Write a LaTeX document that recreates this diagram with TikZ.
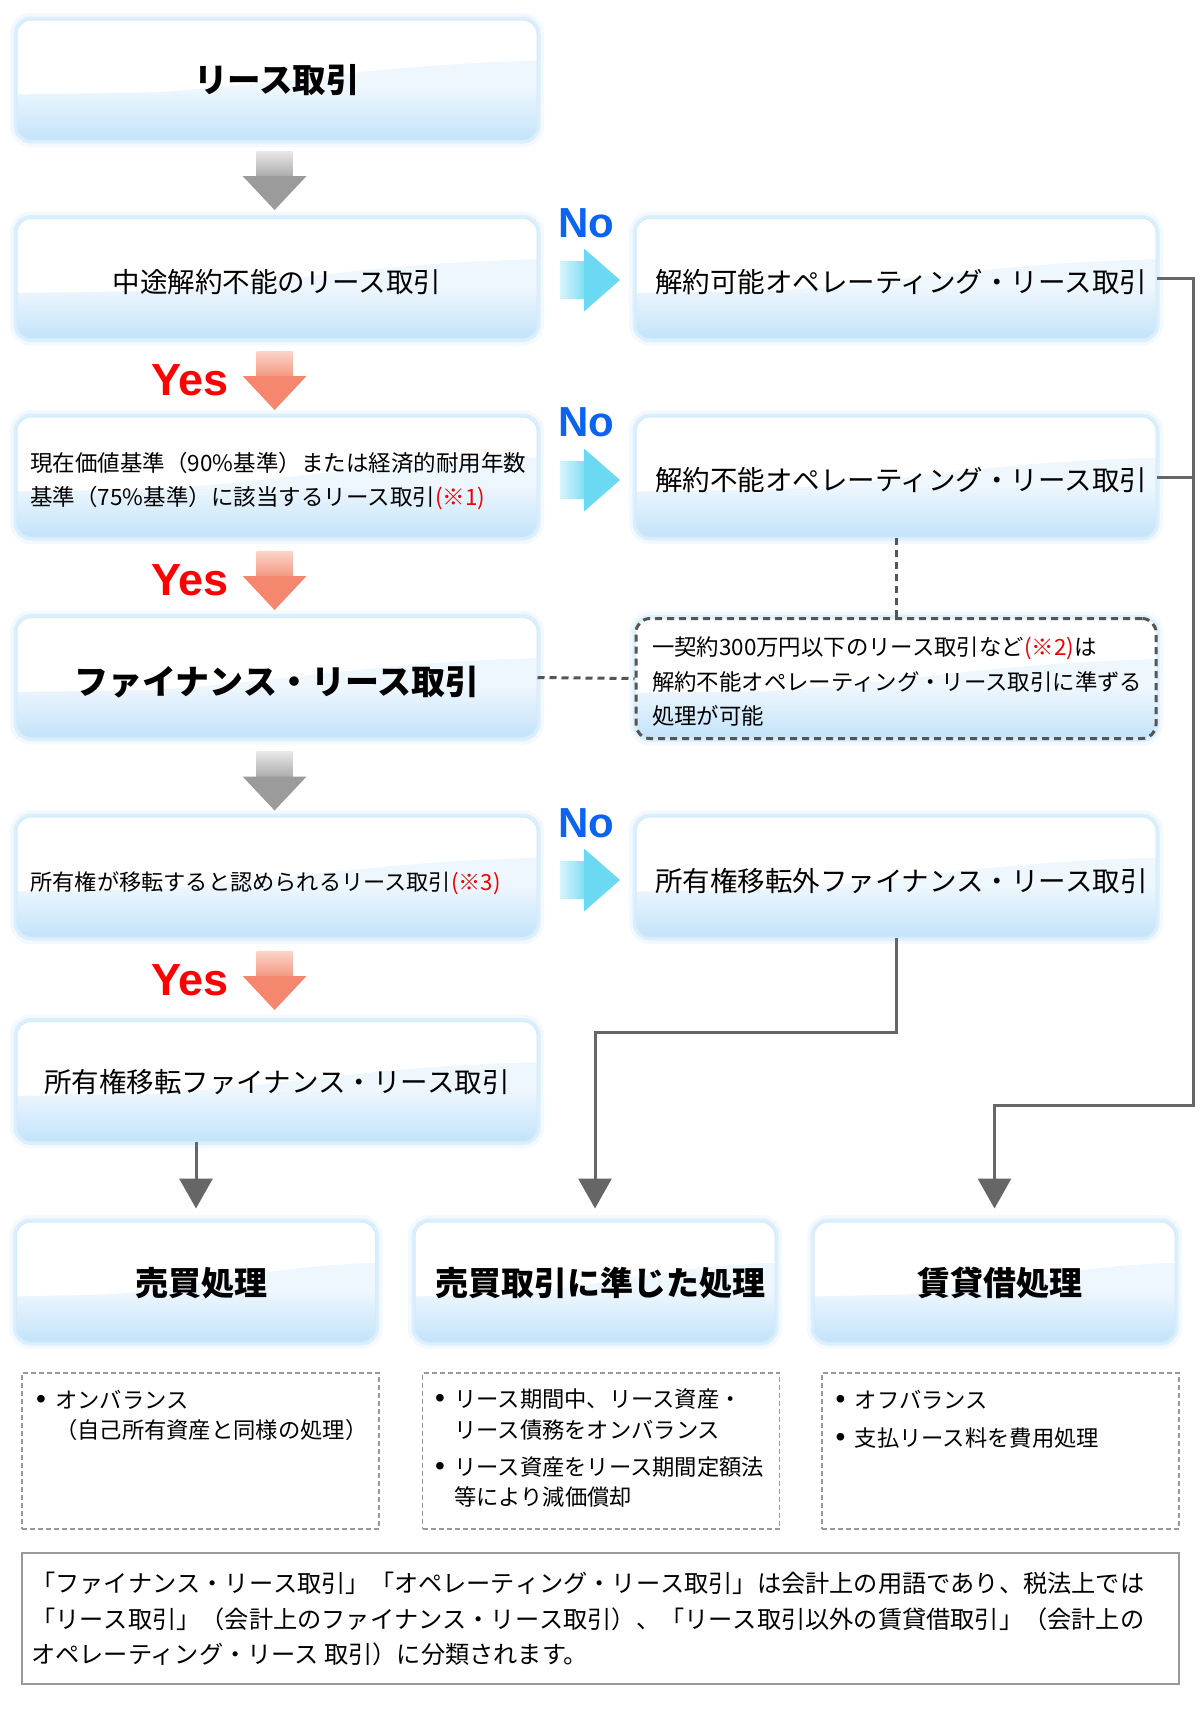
\documentclass[tikz,border=0pt]{standalone}
\usepackage{fontspec}
\setmainfont{Noto Sans CJK JP}
\newfontfamily\latinb{Liberation Sans}
\usetikzlibrary{calc,arrows.meta}
\definecolor{glowc}{HTML}{C9E7FB}
\definecolor{bandfaint}{HTML}{EFF7FE}
\definecolor{bandmid}{HTML}{D4ECFC}
\definecolor{bandbot}{HTML}{C3E3FA}
\definecolor{edgec}{HTML}{D3EBFB}
\definecolor{conc}{HTML}{666666}
\definecolor{notec}{HTML}{555555}
\definecolor{dashg}{HTML}{999999}
\definecolor{yesred}{HTML}{FF0000}
\definecolor{noblue}{HTML}{0A64F0}
\definecolor{noter}{HTML}{F00000}
\definecolor{grayA}{HTML}{E8E8E8}
\definecolor{grayB}{HTML}{A9A9A9}
\definecolor{grayH}{HTML}{9B9B9B}
\definecolor{orA}{HTML}{FBD4C9}
\definecolor{orB}{HTML}{F3967E}
\definecolor{orH}{HTML}{F4876E}
\definecolor{cyA}{HTML}{D8F5FC}
\definecolor{cyB}{HTML}{80DDF3}
\definecolor{cyH}{HTML}{6CD9F2}
\makeatletter
\newcommand\jspread[2]{\makebox[#1][s]{\@tfor\jsx:=#2\do{\jsx\hfil}\unskip}}
\makeatother
\newcommand\lowr[2]{\raisebox{-#1}[\height][\depth]{#2}}
\newcommand\bul{\makebox[24pt][l]{\hspace{5pt}{\latinb\fontsize{28}{28}\selectfont •}}}
\tikzset{
  glow/.style={preaction={draw=glowc, solid, line width=14pt, draw opacity=0.22},
               preaction={draw=glowc, solid, line width=7pt, draw opacity=0.55}},
  band/.style={path picture={
     \fill[sharp corners, bandfaint]
       let \p1=(path picture bounding box.south west), \p2=(path picture bounding box.north east) in
       (\x1,\y1) -- (\x1,{\y1+0.36*(\y2-\y1)})
       .. controls ({\x1+0.45*(\x2-\x1)},{\y1+0.37*(\y2-\y1)}) and ({\x1+0.6*(\x2-\x1)},{\y1+0.62*(\y2-\y1)})
       .. (\x2,{\y1+0.66*(\y2-\y1)}) -- (\x2,\y1) -- cycle;
     \shade[sharp corners, top color=bandfaint, middle color=bandmid, bottom color=bandbot]
       let \p1=(path picture bounding box.south west), \p2=(path picture bounding box.north east) in
       (\x1,\y1) -- (\x1,{\y1+0.38*(\y2-\y1)}) -- (\x2,{\y1+0.44*(\y2-\y1)}) -- (\x2,\y1) -- cycle;}},
  glass/.style={rectangle, rounded corners=14pt, minimum width=520pt, minimum height=120pt,
     inner sep=0pt, fill=white, draw=edgec, line width=1pt, glow, band},
  notebox/.style={glass, draw=notec, line width=3pt, dash pattern=on 7pt off 5pt},
  t27/.style={font=\fontsize{27.5}{34}\selectfont},
  btitle/.style={font=\bfseries\fontsize{33}{40}\selectfont},
  rtext/.style={t27, text width=482pt, align=left},
  dbox/.style={draw=dashg, line width=1.5pt, dash pattern=on 5pt off 3pt,
     minimum width=357pt, minimum height=156pt, inner sep=0pt},
  dline/.style={anchor=west, inner sep=0pt, font=\fontsize{22.3}{30}\selectfont},
  yes/.style={text=yesred, font=\latinb\bfseries\fontsize{45}{45}\selectfont, inner sep=0pt},
  no/.style={text=noblue, font=\latinb\bfseries\fontsize{42}{42}\selectfont, inner sep=0pt},
  conn/.style={draw=conc, line width=3pt, -{Triangle[width=33pt,length=30pt]}, shorten >=13pt},
  plainconn/.style={draw=conc, line width=3pt},
  dashconn/.style={draw=notec, line width=3pt, dash pattern=on 7pt off 5pt},
  pics/dblock/.style n args={3}{code={
     \shade[top color=#1, bottom color=#2] (-18,-29.5) rectangle (18,-3);
     \fill[#3] (-32,-4.5) -- (32,-4.5) -- (0,29.5) -- cycle;}},
  pics/rblock/.style n args={3}{code={
     \shade[left color=#1, right color=#2] (-30,-18.5) rectangle (-5,18.5);
     \fill[#3] (-6,-31.5) -- (-6,31.5) -- (30,0) -- cycle;}},
}
\begin{document}
\begin{tikzpicture}[x=1pt,y=-1pt]
\fill[white] (0,0) rectangle (1200,1730);
\useasboundingbox (0,0) rectangle (1200,1730);

% left column
\node[glass, font=\bfseries\fontsize{33.5}{40}\selectfont] (lease) at (277,80) {リース取引};
\node[glass, t27] (cancel) at (277,278.5) {\lowr{3.3pt}{中途解約不能のリース取引}};
\node[glass, text width=493pt, align=left, font=\fontsize{22.5}{34}\selectfont] (pv) at (277,477)
  {\lowr{4.5pt}{現在価値基準（90\%基準）または経済的耐用年数}\\\lowr{4.5pt}{基準（75\%基準）に該当するリース取引{\color{noter}(※1)}}};
\node[glass, font=\bfseries\fontsize{34}{40}\selectfont] (fin) at (277,677.5) {\lowr{4.4pt}{ファイナンス・リース取引}};
\node[glass, text width=493pt, align=left, font=\fontsize{22.2}{30}\selectfont] (own) at (277,877)
  {\lowr{6.6pt}{所有権が移転すると認められるリース取引{\color{noter}(※3)}}};
\node[glass, t27] (ownfin) at (277,1081.5) {所有権移転ファイナンス・リース取引};

% right column
\node[glass, rtext] (opcan) at (896,278.5) {\lowr{3.3pt}{解約可能オペレーティング・リース取引}};
\node[glass, rtext] (opnon) at (896,477) {\lowr{3.3pt}{解約不能オペレーティング・リース取引}};
\node[notebox, text width=488pt, align=left, font=\fontsize{22.4}{34.5}\selectfont] (note) at (896,678.5)
  {\lowr{3pt}{一契約300万円以下のリース取引など{\color{noter}(※2)}は}\\\lowr{3pt}{解約不能オペレーティング・リース取引に準ずる}\\\lowr{3pt}{処理が可能}};
\node[glass, rtext] (nonown) at (896,877) {\lowr{4.4pt}{所有権移転外ファイナンス・リース取引}};

% block arrows
\pic at (274.6,180.5) {dblock={grayA}{grayB}{grayH}};
\pic at (274.6,781) {dblock={grayA}{grayB}{grayH}};
\pic at (274.6,380.5) {dblock={orA}{orB}{orH}};
\pic at (274.6,580.5) {dblock={orA}{orB}{orH}};
\pic at (274.6,980.5) {dblock={orA}{orB}{orH}};
\pic at (590,280) {rblock={cyA}{cyB}{cyH}};
\pic at (590,480) {rblock={cyA}{cyB}{cyH}};
\pic at (590,880) {rblock={cyA}{cyB}{cyH}};

\node[yes] (yes1) at (190,380) {Yes};
\node[yes] (yes2) at (190,580.5) {Yes};
\node[yes] (yes3) at (190,980.5) {Yes};
\node[no] (no1) at (586,223) {No};
\node[no] (no2) at (586,422) {No};
\node[no] (no3) at (586,823) {No};

% bottom results
\node[glass, minimum width=359pt, btitle] (sale) at (196,1282) {\hspace*{11pt}\lowr{1pt}{売買処理}};
\node[glass, minimum width=360pt, btitle] (salelike) at (595,1282) {\hspace*{11pt}\lowr{1pt}{売買取引に準じた処理}};
\node[glass, minimum width=361pt, btitle] (rent) at (994.5,1282) {\hspace*{11pt}\lowr{1pt}{賃貸借処理}};

% connectors
\coordinate (rj) at (1193,1105);
\coordinate (cj) at (595,1032);
\draw[conn] (opcan.east) -| (rj) -| (rent.north);
\draw[plainconn] (opnon.east) -- (opnon.east -| rj);
\draw[conn] (nonown.south) |- (cj) -- (salelike.north);
\draw[conn] (sale.north |- ownfin.south) -- (sale.north);
\draw[dashconn] (opnon.south) -- (note.north);
\draw[dashconn] (fin.east) -- (note.west);

% dashed detail boxes
\node[dbox] (d1) at (200.5,1451) {};
\node[dbox] (d2) at (601,1451) {};
\node[dbox] (d3) at (1000.5,1451) {};
\node[dline] (d1a) at (31,1399.5) {\bul オンバランス};
\node[dline] (d1b) at (55,1430.5) {（自己所有資産と同様の処理）};
\node[dline] (d2a) at (430,1399.5) {\bul リース期間中、リース資産・};
\node[dline] (d2b) at (454,1430.5) {リース債務をオンバランス};
\node[dline] (d2c) at (430,1467) {\bul リース資産をリース期間定額法};
\node[dline] (d2d) at (454,1496.5) {等により減価償却};
\node[dline] (d3a) at (830.5,1399.5) {\bul オフバランス};
\node[dline] (d3b) at (830.5,1438) {\bul 支払リース料を費用処理};

% footer
\node[draw=dashg, line width=2pt, minimum width=1157pt, minimum height=131pt, inner sep=0pt] (foot) at (600.5,1618.5) {};
\node[anchor=west, align=left, inner sep=0pt, font=\fontsize{24.2}{35.75}\selectfont] (foottext) at (31,1619)
  {\jspread{1112pt}{「ファイナンス・リース取引」「オペレーティング・リース取引」は会計上の用語であり、税法上では}\\
   \jspread{1112pt}{「リース取引」（会計上のファイナンス・リース取引）、「リース取引以外の賃貸借取引」（会計上の}\\
   オペレーティング・リース 取引）に分類されます。};
\end{tikzpicture}
\end{document}
